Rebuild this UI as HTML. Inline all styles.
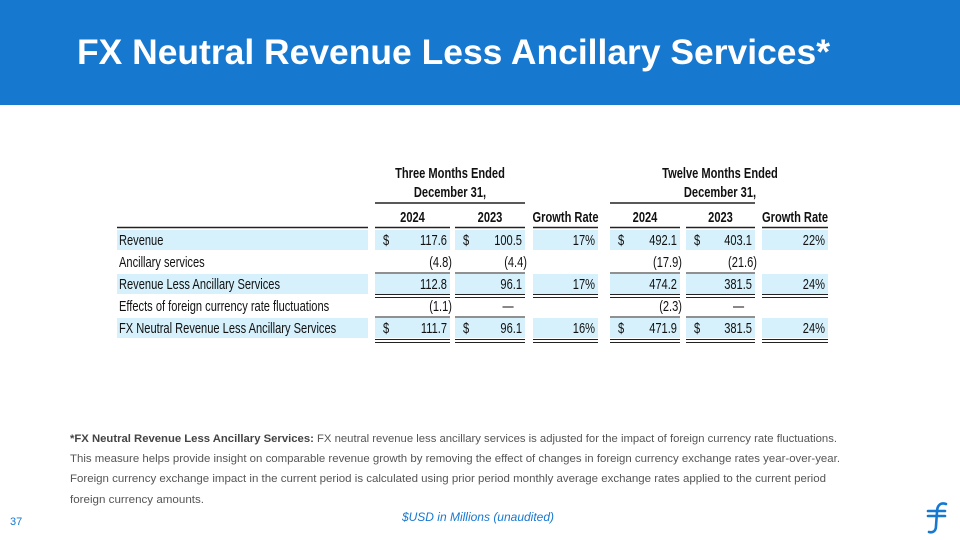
<!DOCTYPE html>
<html><head><meta charset="utf-8"><style>
html,body{margin:0;padding:0;background:#fff}
svg{display:block}
.n{font-family:"Liberation Sans Narrow","Liberation Sans",sans-serif;font-size:15px;fill:#111}
.f{font-family:"Liberation Sans",sans-serif;font-size:11px;fill:#555}
</style></head><body>
<svg width="960" height="540" viewBox="0 0 960 540">
<rect x="0" y="0" width="960" height="105" fill="#1778d0"/>
<text x="77" y="64" fill="#fff" font-family="Liberation Sans, sans-serif" font-weight="bold" font-size="35" textLength="753" lengthAdjust="spacingAndGlyphs">FX Neutral Revenue Less Ancillary Services*</text>
<g id="table"></g>
<g>
<text class="f" x="70" y="442" textLength="767" lengthAdjust="spacingAndGlyphs"><tspan font-weight="bold" fill="#444">*FX Neutral Revenue Less Ancillary Services:</tspan> FX neutral revenue less ancillary services is adjusted for the impact of foreign currency rate fluctuations.</text>
<text class="f" x="70" y="462" textLength="770" lengthAdjust="spacingAndGlyphs">This measure helps provide insight on comparable revenue growth by removing the effect of changes in foreign currency exchange rates year-over-year.</text>
<text class="f" x="70" y="482" textLength="756" lengthAdjust="spacingAndGlyphs">Foreign currency exchange impact in the current period is calculated using prior period monthly average exchange rates applied to the current period</text>
<text class="f" x="70" y="503" textLength="134" lengthAdjust="spacingAndGlyphs">foreign currency amounts.</text>
</g>
<text x="478" y="521" text-anchor="middle" font-family="Liberation Sans, sans-serif" font-style="italic" font-size="12" fill="#1778d0">$USD in Millions (unaudited)</text>
<text x="10" y="525" font-family="Liberation Sans, sans-serif" font-size="11" fill="#1778d0">37</text>
<g stroke="#1778d0" stroke-width="2.6" fill="none" stroke-linecap="round">
<path d="M946 504 C940 502 937 506 937 512 L936 526 C936 531 933 533 929 532"/>
<line x1="928" y1="511" x2="945" y2="511"/><line x1="928" y1="516" x2="945" y2="516"/>
</g>
</svg>
<script>
const rows=["Revenue","Ancillary services","Revenue Less Ancillary Services","Effects of foreign currency rate fluctuations","FX Neutral Revenue Less Ancillary Services"];
const q2024=["117.6","(4.8)","112.8","(1.1)","111.7"];
const q2023=["100.5","(4.4)","96.1","—","96.1"];
const qGrowth=["17%","","17%","","16%"];
const y2024=["492.1","(17.9)","474.2","(2.3)","471.9"];
const y2023=["403.1","(21.6)","381.5","—","381.5"];
const yGrowth=["22%","","24%","","24%"];
const dollarRows=[0,4];
const shaded=[0,2,4];
const ns="http://www.w3.org/2000/svg";
const g=document.getElementById('table');
function el(t,a,txt){const e=document.createElementNS(ns,t);for(const k in a)e.setAttribute(k,a[k]);if(txt!==undefined)e.textContent=txt;g.appendChild(e);return e;}
function narrow(e){const L=e.getComputedTextLength();if(L>0){e.setAttribute('textLength',(L*0.74).toFixed(1));e.setAttribute('lengthAdjust','spacingAndGlyphs');}return e;}
const cols=[[375,450],[455,525],[533,598],[610,680],[686,755],[762,828]];
const data=[q2024,q2023,qGrowth,y2024,y2023,yGrowth];
const top0=229,rh=22;
let t;
t=narrow(el('text',{x:450,y:178,'text-anchor':'middle',class:'n','font-weight':'bold'},'Three Months Ended'));
t=narrow(el('text',{x:450,y:197,'text-anchor':'middle',class:'n','font-weight':'bold'},'December 31,'));
t=narrow(el('text',{x:720,y:178,'text-anchor':'middle',class:'n','font-weight':'bold'},'Twelve Months Ended'));
t=narrow(el('text',{x:720,y:197,'text-anchor':'middle',class:'n','font-weight':'bold'},'December 31,'));
el('line',{x1:375,x2:525,y1:203,y2:203,stroke:'#222','stroke-width':1.5});
el('line',{x1:610,x2:755,y1:203,y2:203,stroke:'#222','stroke-width':1.5});
const heads=["2024","2023","Growth Rate","2024","2023","Growth Rate"];
cols.forEach((c,i)=>{
 const h=narrow(el('text',{x:(c[0]+c[1])/2,y:222,'text-anchor':'middle',class:'n','font-weight':'bold'},heads[i]));
 
 el('line',{x1:c[0],x2:c[1],y1:227.5,y2:227.5,stroke:'#222','stroke-width':1.5});
});
el('line',{x1:117,x2:368,y1:227.5,y2:227.5,stroke:'#222','stroke-width':1.5});
rows.forEach((r,i)=>{
 const y=top0+i*rh;
 if(shaded.includes(i)){
  el('rect',{x:117,y:y+1,width:251,height:rh-2,fill:'#d6f1fb'});
  cols.forEach(c=>el('rect',{x:c[0],y:y+1,width:c[1]-c[0],height:rh-2,fill:'#d6f1fb'}));
 }
 const lt=narrow(el('text',{x:119,y:y+16,class:'n'},r));
 
 cols.forEach((c,j)=>{
  const v=data[j][i];
  if(dollarRows.includes(i)&&j!==2&&j!==5){narrow(el('text',{x:c[0]+8,y:y+16,class:'n'},'$'));}
  if(v){
   const paren=v.startsWith('(');
   const x=v==='—'?(c[0]+c[1])/2+18:(paren?c[1]+2:c[1]-3);
   const tv=narrow(el('text',{x:x,y:y+16,class:'n','text-anchor':v==='—'?'middle':'end'},v));
   
  }
 });
});
[0,1,3,4].forEach(j=>{
 const c=cols[j];
 el('line',{x1:c[0],x2:c[1],y1:top0+2*rh,y2:top0+2*rh,stroke:'#222','stroke-width':1});
 el('line',{x1:c[0],x2:c[1],y1:top0+4*rh,y2:top0+4*rh,stroke:'#222','stroke-width':1});
});
cols.forEach(c=>{
 [top0+3*rh, top0+5*rh+1].forEach(yy=>{
  el('line',{x1:c[0],x2:c[1],y1:yy-0.5,y2:yy-0.5,stroke:'#222','stroke-width':1});
  el('line',{x1:c[0],x2:c[1],y1:yy+2.5,y2:yy+2.5,stroke:'#222','stroke-width':1});
 });
});
</script>
</body></html>
